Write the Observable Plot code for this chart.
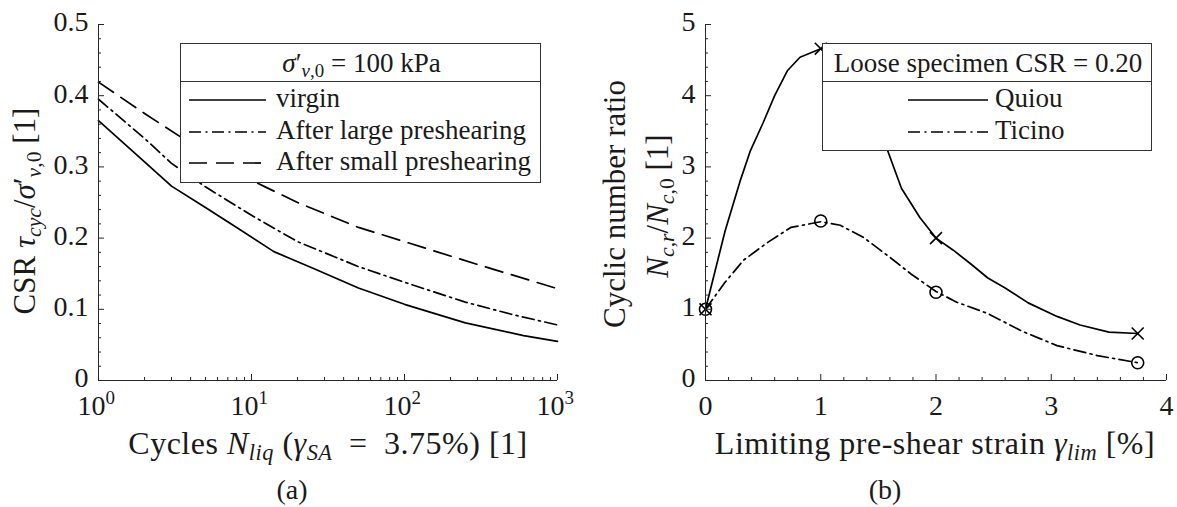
<!DOCTYPE html>
<html><head><meta charset="utf-8">
<script src="https://cdn.jsdelivr.net/npm/d3@7"></script>
<script src="https://cdn.jsdelivr.net/npm/@observablehq/plot@0.6"></script>
<style>
body{margin:0;background:#fff;}
#wrap{position:relative;width:1177px;height:507px;overflow:hidden;font-family:'Liberation Serif','Times New Roman','DejaVu Serif',serif;color:#1a1a1a;background:#fff;}
#wrap svg{position:absolute;top:0;}
.abs{position:absolute;white-space:nowrap;line-height:1;}
.c{transform:translate(-50%,-50%);}
.rot{transform:translate(-50%,-50%) rotate(-90deg);}
.lab{letter-spacing:0.5px;}
.legend{position:absolute;background:#fff;border:1.3px solid #333;box-sizing:border-box;}
.legend .sep{position:absolute;left:0;right:0;border-top:1.3px solid #333;}
sub{font-size:0.7em;vertical-align:-0.28em;line-height:0;}
</style></head>
<body><div id="wrap"></div>
<script>
// ---- Panel (a): CSR vs number of cycles ----
const virginN   = [1, 2, 3, 5, 8, 14, 25, 50, 100, 250, 600, 1000];
const virginCSR = [0.365, 0.307, 0.273, 0.243, 0.215, 0.181, 0.158, 0.130, 0.107, 0.081, 0.063, 0.055];
const largeN    = [1, 2, 3, 5, 10, 20, 50, 100, 250, 500, 1000];
const largeCSR  = [0.395, 0.340, 0.305, 0.272, 0.232, 0.195, 0.160, 0.138, 0.110, 0.093, 0.078];
const smallN    = [1, 2, 3.5, 6, 12, 20, 50, 100, 300, 1000];
const smallCSR  = [0.419, 0.375, 0.341, 0.305, 0.273, 0.250, 0.215, 0.195, 0.163, 0.129];
const seriesA   = ["virgin", "After large preshearing", "After small preshearing"];

// ---- Panel (b): cyclic number ratio vs limiting strain ----
const quiouStrain  = [0, 0.17, 0.3, 0.39, 0.5, 0.6, 0.71, 0.82, 1, 1.2, 1.4, 1.58, 1.7, 1.86, 2, 2.15, 2.3, 2.45, 2.6, 2.8, 3.05, 3.25, 3.5, 3.75];
const quiouRatio   = [1, 2.1, 2.8, 3.23, 3.62, 4.0, 4.35, 4.54, 4.66, 4.4, 3.85, 3.23, 2.7, 2.29, 2.0, 1.83, 1.64, 1.44, 1.3, 1.09, 0.9, 0.78, 0.68, 0.66];
const ticinoStrain = [0, 0.16, 0.33, 0.54, 0.74, 1, 1.17, 1.37, 1.6, 1.78, 2, 2.18, 2.45, 2.75, 3.05, 3.4, 3.75];
const ticinoRatio  = [1, 1.36, 1.69, 1.94, 2.15, 2.23, 2.18, 2.01, 1.73, 1.5, 1.25, 1.1, 0.94, 0.69, 0.49, 0.35, 0.25];
const quiouMarkStrain  = [0, 1, 2, 3.75];
const quiouMarkRatio   = [1, 4.66, 2.0, 0.66];
const ticinoMarkStrain = [0, 1, 2, 3.75];
const ticinoMarkRatio  = [1, 2.24, 1.24, 0.25];
const seriesB = ["Quiou", "Ticino"];

// ---- tick labels ----
const aYTicks = [0, 0.1, 0.2, 0.3, 0.4, 0.5];
const aYTickLabels = ["0", "0.1", "0.2", "0.3", "0.4", "0.5"];
const aXTicks = [1, 10, 100, 1000];
const aXTickExp = ["0", "1", "2", "3"];
const bYTicks = [0, 1, 2, 3, 4, 5];
const bXTicks = [0, 1, 2, 3, 4];

const FONT = "'Liberation Serif','Times New Roman','DejaVu Serif',serif";
const zip = (xs, ys) => xs.map((x, i) => ({x, y: ys[i]}));
const AX = "#262626";
const LW = 1.7;
const DASHDOT = "12,4.5,2,4.5";
const DASH = "18,9";

const H = 507, mT = 24, mB = 127;
const innerH = H - mT - mB;

// Panel (a)
const W1 = 588, mL1 = 98, mR1 = 31, innerW1 = W1 - mL1 - mR1;
const aMinorX = [];
for (const dec of [1, 10, 100]) for (let k = 2; k <= 9; k++) aMinorX.push(k * dec);
const aMinorY = d3.range(0, 0.5001, 0.02).filter(v => Math.abs(v * 10 - Math.round(v * 10)) > 1e-6);

const plotA = Plot.plot({
  width: W1, height: H, marginLeft: mL1, marginRight: mR1, marginTop: mT, marginBottom: mB,
  x: {type: "log", domain: [1, 1000], axis: null},
  y: {domain: [0, 0.5], axis: null},
  style: {fontFamily: FONT, background: "transparent", color: "#1a1a1a", overflow: "visible"},
  marks: [
    Plot.line(zip(virginN, virginCSR), {x: "x", y: "y", stroke: "#000", strokeWidth: LW}),
    Plot.line(zip(largeN, largeCSR), {x: "x", y: "y", stroke: "#000", strokeWidth: LW, strokeDasharray: DASHDOT}),
    Plot.line(zip(smallN, smallCSR), {x: "x", y: "y", stroke: "#000", strokeWidth: LW, strokeDasharray: DASH}),
    Plot.ruleY([0], {stroke: AX, strokeWidth: 1}),
    Plot.ruleX([1], {stroke: AX, strokeWidth: 1}),
    Plot.tickY(aYTicks, {y: d => d, insetRight: innerW1 - 6, stroke: AX}),
    Plot.tickY(aMinorY, {y: d => d, insetRight: innerW1 - 3, stroke: AX}),
    Plot.tickX(aXTicks, {x: d => d, insetTop: innerH - 6, stroke: AX}),
    Plot.tickX(aMinorX, {x: d => d, insetTop: innerH - 3, stroke: AX}),
    Plot.text(aYTicks.map((v, i) => ({v, t: aYTickLabels[i]})), {y: "v", text: "t", frameAnchor: "left", textAnchor: "end", dx: -10, dy: -2, fontSize: 28, fill: "#1a1a1a"}),
    Plot.text(aXTicks, {x: d => d, text: () => "10", frameAnchor: "bottom", lineAnchor: "top", dx: -7, dy: 15, fontSize: 28, fill: "#1a1a1a"}),
    Plot.text(aXTicks.map((v, i) => ({v, e: aXTickExp[i]})), {x: "v", text: "e", frameAnchor: "bottom", lineAnchor: "top", textAnchor: "start", dx: 7, dy: 10, fontSize: 19, fill: "#1a1a1a"})
  ]
});
plotA.style.left = "0px";

// Panel (b)
const X2 = 588, W2 = 589, mL2 = 117, mR2 = 11, innerW2 = W2 - mL2 - mR2;
const bMinorX = d3.range(0, 4.0001, 0.2).filter(v => Math.abs(v - Math.round(v)) > 1e-6);
const bMinorY = d3.range(0, 5.0001, 0.2).filter(v => Math.abs(v - Math.round(v)) > 1e-6);

const plotB = Plot.plot({
  width: W2, height: H, marginLeft: mL2, marginRight: mR2, marginTop: mT, marginBottom: mB,
  x: {domain: [0, 4], axis: null},
  y: {domain: [0, 5], axis: null},
  style: {fontFamily: FONT, background: "transparent", color: "#1a1a1a", overflow: "visible"},
  marks: [
    Plot.line(zip(quiouStrain, quiouRatio), {x: "x", y: "y", stroke: "#000", strokeWidth: LW}),
    Plot.line(zip(ticinoStrain, ticinoRatio), {x: "x", y: "y", stroke: "#000", strokeWidth: LW, strokeDasharray: DASHDOT}),
    Plot.dot(zip(quiouMarkStrain, quiouMarkRatio), {x: "x", y: "y", symbol: "times", r: 5.5, stroke: "#000", strokeWidth: 1.6}),
    Plot.dot(zip(ticinoMarkStrain, ticinoMarkRatio), {x: "x", y: "y", symbol: "circle", r: 6, stroke: "#000", fill: "none", strokeWidth: 1.6}),
    Plot.ruleY([0], {stroke: AX, strokeWidth: 1}),
    Plot.ruleX([0], {stroke: AX, strokeWidth: 1}),
    Plot.tickY(bYTicks, {y: d => d, insetRight: innerW2 - 6, stroke: AX}),
    Plot.tickY(bMinorY, {y: d => d, insetRight: innerW2 - 3, stroke: AX}),
    Plot.tickX(bXTicks, {x: d => d, insetTop: innerH - 6, stroke: AX}),
    Plot.tickX(bMinorX, {x: d => d, insetTop: innerH - 3, stroke: AX}),
    Plot.text(bYTicks, {y: d => d, text: d => String(d), frameAnchor: "left", textAnchor: "end", dx: -10, dy: -2, fontSize: 28, fill: "#1a1a1a"}),
    Plot.text(bXTicks, {x: d => d, text: d => String(d), frameAnchor: "bottom", lineAnchor: "top", dy: 15, fontSize: 28, fill: "#1a1a1a"})
  ]
});
plotB.style.left = X2 + "px";

const wrap = document.getElementById("wrap");
wrap.appendChild(plotA);
wrap.appendChild(plotB);

function addText(html, x, y, size, cls) {
  const d = document.createElement("div");
  d.className = "abs " + (cls || "c");
  d.style.left = x + "px"; d.style.top = y + "px"; d.style.fontSize = size + "px";
  d.innerHTML = html;
  wrap.appendChild(d);
  return d;
}
function sample(dash, w) {
  return `<svg width="${w}" height="6" style="position:absolute;overflow:visible"><line x1="0" y1="3" x2="${w}" y2="3" stroke="#000" stroke-width="${LW}" ${dash ? `stroke-dasharray="${dash}"` : ""}/></svg>`;
}
function addLegend(x, y, w, h, titleHtml, rows, sx, sw, tx, rowYs) {
  const L = document.createElement("div");
  L.className = "legend";
  Object.assign(L.style, {left: x + "px", top: y + "px", width: w + "px", height: h + "px"});
  let inner = `<div class="abs c" style="left:${w / 2}px;top:19px;font-size:27px">${titleHtml}</div><div class="sep" style="top:37px"></div>`;
  rows.forEach((r, i) => {
    inner += `<div style="position:absolute;left:${sx}px;top:${rowYs[i] - 3}px">${sample(r.dash, sw)}</div>`;
    inner += `<div class="abs" style="left:${tx}px;top:${rowYs[i]}px;font-size:27px;transform:translateY(-55%)">${r.label}</div>`;
  });
  L.innerHTML = inner;
  wrap.appendChild(L);
}

// Axis labels
addText(`CSR <i>τ</i><sub><i>cyc</i></sub>/<i>σ</i>′<sub><i>v</i>,0</sub> [1]`, 24, 211, 31, "rot");
addText(`Cycles <i>N</i><sub><i>liq</i></sub> (<i>γ</i><sub><i>SA</i></sub>&ensp;=&ensp;3.75%) [1]`, 328, 443, 32, "c lab");
addText(`(a)`, 292, 490, 28);
addText(`Cyclic number ratio`, 614, 204, 31, "rot");
addText(`<i>N</i><sub><i>c</i>,<i>r</i></sub>/<i>N</i><sub><i>c</i>,0</sub> [1]`, 657, 206, 31, "rot");
addText(`Limiting pre-shear strain <i>γ</i><sub><i>lim</i></sub> [%]`, 935, 443, 32, "c lab");
addText(`(b)`, 885, 490, 28);

// Legends
addLegend(180, 43, 361, 140, `<i>σ</i>′<sub><i>v</i>,0</sub> = 100 kPa`,
  [{label: seriesA[0], dash: null}, {label: seriesA[1], dash: DASHDOT}, {label: seriesA[2], dash: DASH}],
  8, 77, 95, [56, 88, 119]);
addLegend(822, 43, 330, 108, `Loose specimen CSR = 0.20`,
  [{label: seriesB[0], dash: null}, {label: seriesB[1], dash: DASHDOT}],
  85, 80, 172, [56, 88]);
</script>
</body></html>
